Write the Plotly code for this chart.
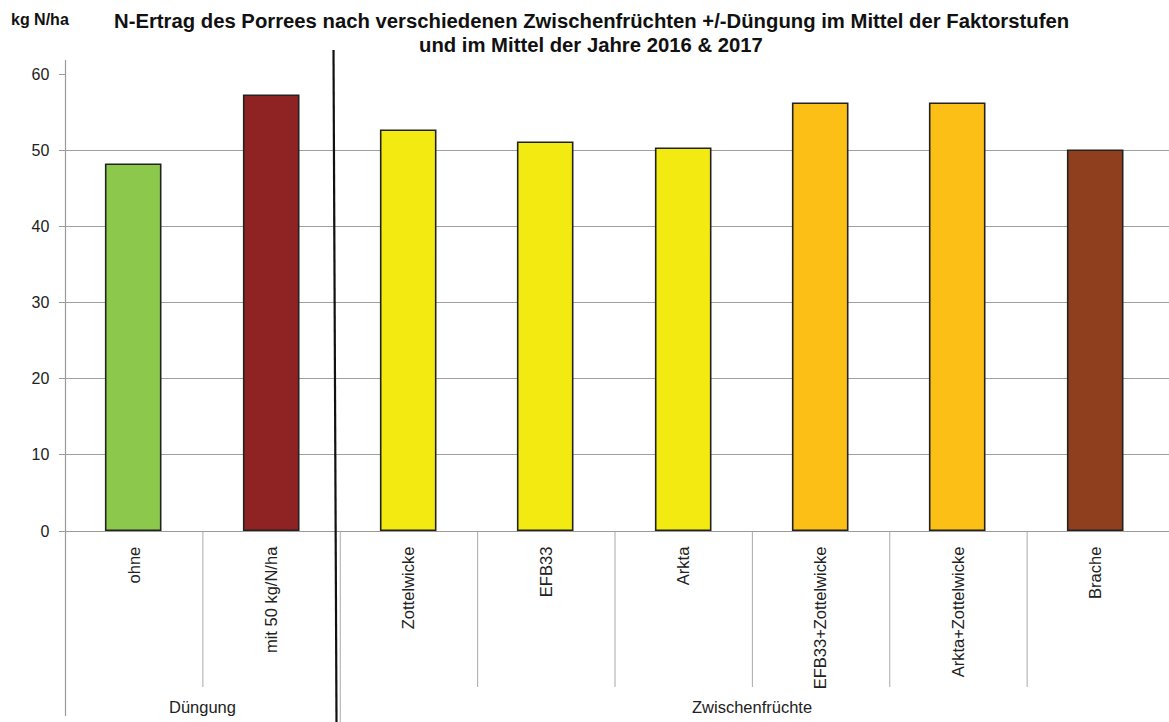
import plotly.graph_objects as go

# N-yield of leek after different cover crops, with and without fertilisation
categories = ["ohne", "mit 50 kg/N/ha", "Zottelwicke", "EFB33", "Arkta",
              "EFB33+Zottelwicke", "Arkta+Zottelwicke", "Brache"]
values = [48.0, 57.1, 52.5, 50.9, 50.2, 56.0, 56.0, 49.9]
colors = ["#8CC84B", "#8F2323", "#F2EA10", "#F2EA10", "#F2EA10",
          "#FBBF16", "#FBBF16", "#8F3F1E"]
groups = [("Düngung", 0, 1), ("Zwischenfrüchte", 2, 7)]
y_ticks = [0, 10, 20, 30, 40, 50, 60]

W, H = 1169, 722
FONT = "Liberation Sans, Arial, sans-serif"
CAT_W = (1164.5 - 65.5) / len(categories)   # pixel width of one category slot


def px(x):
    return x / W


def py(y):
    return 1 - y / H


fig = go.Figure(go.Bar(
    x=list(range(len(categories))),
    y=values,
    width=0.4,
    marker=dict(color=colors, line=dict(color="#222222", width=1.6)),
    hoverinfo="x+y",
))

shapes = []
# left axis line, extended below the category area
shapes.append(dict(type="line", xref="paper", yref="paper",
                   x0=px(65.5), x1=px(65.5), y0=py(60), y1=py(716),
                   line=dict(color="#9a9a9a", width=1.2)))
# category separators below the axis
for i in range(len(categories) - 1):
    bottom = 722 if i == 1 else 687
    shapes.append(dict(type="line", xref="x", yref="paper",
                       x0=i + 0.5, x1=i + 0.5, y0=py(531), y1=py(bottom),
                       line=dict(color="#a8a8a8", width=1)))
# bold divider between the two factor groups
shapes.append(dict(type="line", xref="paper", yref="paper",
                   x0=px(333.5), x1=px(336.5), y0=py(50), y1=py(722),
                   line=dict(color="#111111", width=2.2)))

annotations = [
    dict(text="<b>N-Ertrag des Porrees nach verschiedenen Zwischenfrüchten +/-Düngung im Mittel der Faktorstufen</b>",
         xref="paper", yref="paper", x=px(591), y=py(21), xanchor="center", yanchor="middle",
         showarrow=False, font=dict(family=FONT, size=20.3, color="#111111")),
    dict(text="<b>und im Mittel der Jahre 2016 & 2017</b>",
         xref="paper", yref="paper", x=px(591), y=py(45), xanchor="center", yanchor="middle",
         showarrow=False, font=dict(family=FONT, size=20.3, color="#111111")),
    dict(text="<b>kg N/ha</b>",
         xref="paper", yref="paper", x=px(9), y=py(20), xanchor="left", yanchor="middle",
         showarrow=False, font=dict(family=FONT, size=16, color="#111111")),
]
for name, a, b in groups:
    annotations.append(dict(text=name, xref="x", yref="paper", x=(a + b) / 2, y=py(707),
                            xanchor="center", yanchor="middle", showarrow=False,
                            font=dict(family=FONT, size=16.5, color="#222222")))

fig.update_layout(
    width=W, height=H,
    margin=dict(l=0, r=0, t=0, b=0, autoexpand=False),
    paper_bgcolor="white", plot_bgcolor="white",
    showlegend=False,
    bargap=0,
    font=dict(family=FONT, size=16, color="#222222"),
    xaxis=dict(
        domain=[px(65.5), 1.0],
        range=[-0.5, len(categories) - 0.5 + (W - 1164.5) / CAT_W],
        tickmode="array", tickvals=list(range(len(categories))), ticktext=categories,
        tickangle=-90, ticks="", showgrid=False, zeroline=False,
        showline=True, linecolor="#9a9a9a", linewidth=1.2,
        ticklabelstandoff=8, automargin=False,
        tickfont=dict(family=FONT, size=16.5, color="#222222"),
    ),
    yaxis=dict(
        domain=[py(531), py(74)],
        range=[0, 60],
        tickmode="array", tickvals=y_ticks,
        ticks="outside", ticklen=6, tickcolor="#9a9a9a",
        showgrid=True, gridcolor="#a0a0a0", gridwidth=1,
        zeroline=False, showline=False,
        ticklabelstandoff=6, automargin=False,
        tickfont=dict(family=FONT, size=16, color="#222222"),
    ),
    shapes=shapes,
    annotations=annotations,
)

fig.write_html("out.html")
